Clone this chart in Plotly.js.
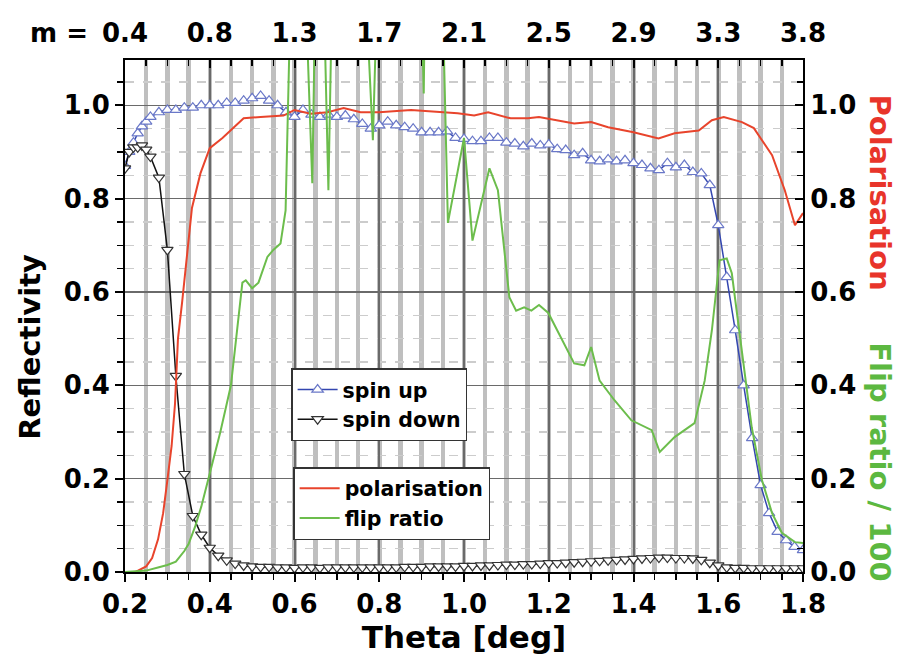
<!DOCTYPE html>
<html>
<head>
<meta charset="utf-8">
<script src="https://cdn.plot.ly/plotly-3.0.1.min.js"></script>
<style>html,body{margin:0;padding:0;background:#fff;}#chart{width:911px;height:662px;}</style>
</head>
<body>
<div id="chart"></div>
<script>
// ---- data ----
const theta = [0.20,0.21,0.22,0.23,0.24,0.25,0.26,
  0.28,0.30,0.32,0.34,0.36,0.38,0.40,0.42,0.44,0.46,0.48,0.50,0.52,0.54,0.56,0.58,0.60,
  0.62,0.64,0.66,0.68,0.70,0.72,0.74,0.76,0.78,0.80,0.82,0.84,0.86,0.88,0.90,0.92,0.94,
  0.96,0.98,1.00,1.02,1.04,1.06,1.08,1.10,1.12,1.14,1.16,1.18,1.20,1.22,1.24,1.26,1.28,
  1.30,1.32,1.34,1.36,1.38,1.40,1.42,1.44,1.46,1.48,1.50,1.52,1.54,1.56,1.58,1.60,1.62,
  1.64,1.66,1.68,1.70,1.72,1.74,1.76,1.78,1.80];

const spinUp = [0.87,0.90,0.92,0.94,0.955,0.965,0.975,
  0.985,0.99,0.99,0.995,0.995,1.00,1.00,1.00,1.005,1.005,1.01,1.015,1.02,1.01,1.00,0.985,0.975,
  0.99,0.98,0.975,0.98,0.975,0.978,0.97,0.96,0.95,0.957,0.965,0.957,0.953,0.95,0.942,0.942,0.942,
  0.944,0.93,0.928,0.923,0.923,0.93,0.93,0.92,0.918,0.912,0.918,0.914,0.916,0.906,0.904,0.893,0.897,
  0.882,0.88,0.884,0.88,0.882,0.876,0.872,0.865,0.861,0.876,0.867,0.872,0.857,0.854,0.829,0.743,0.632,
  0.518,0.40,0.287,0.186,0.126,0.086,0.068,0.054,0.047];

const spinDown = [0.865,0.90,0.91,0.91,0.914,0.905,0.89,
  0.845,0.69,0.42,0.21,0.12,0.08,0.052,0.035,0.025,0.018,0.014,0.012,0.011,0.011,0.010,0.010,0.009,
  0.010,0.010,0.009,0.010,0.010,0.010,0.010,0.010,0.010,0.010,0.010,0.010,0.011,0.011,0.011,0.012,0.012,
  0.012,0.012,0.013,0.013,0.014,0.014,0.015,0.016,0.016,0.017,0.017,0.018,0.019,0.019,0.020,0.021,0.022,
  0.023,0.024,0.025,0.026,0.027,0.028,0.029,0.030,0.031,0.031,0.030,0.030,0.029,0.026,0.020,0.014,0.010,
  0.009,0.009,0.008,0.008,0.008,0.008,0.008,0.008,0.008];

const polTheta = [0.20,0.225,0.25,0.264,0.278,0.29,0.30,0.31,0.318,0.325,0.335,0.347,0.358,0.378,
  0.40,0.43,0.48,0.52,0.574,0.60,0.638,0.678,0.716,0.756,0.80,0.875,0.95,0.985,1.024,1.057,1.11,
  1.151,1.177,1.22,1.26,1.30,1.34,1.40,1.459,1.497,1.554,1.585,1.613,1.656,1.684,1.727,1.757,1.781,1.80];
const polarisation = [0.0,0.0,0.012,0.03,0.07,0.126,0.197,0.27,0.36,0.50,0.58,0.69,0.78,0.854,
  0.908,0.93,0.972,0.975,0.978,0.99,0.982,0.985,0.994,0.985,0.985,0.99,0.985,0.983,0.978,0.985,0.972,
  0.972,0.975,0.968,0.961,0.964,0.953,0.942,0.929,0.94,0.946,0.968,0.975,0.964,0.951,0.893,0.818,0.743,0.769];

const flipTheta = [0.20,0.25,0.28,0.30,0.32,0.34,0.35,0.365,0.38,0.40,0.425,0.45,0.465,0.477,0.485,
  0.50,0.515,0.536,0.55,0.567,0.579,0.586,0.595,0.62,0.642,0.652,0.665,0.68,0.692,0.76,0.785,0.80,
  0.895,0.905,0.91,0.945,0.962,1.00,1.02,1.06,1.08,1.107,1.123,1.142,1.159,1.177,1.199,1.26,1.284,
  1.30,1.32,1.355,1.395,1.443,1.462,1.497,1.544,1.568,1.585,1.603,1.62,1.632,1.66,1.679,1.703,
  1.727,1.75,1.781,1.80];
const flipRatio = [0.0,0.003,0.01,0.015,0.022,0.045,0.06,0.096,0.14,0.21,0.30,0.40,0.52,0.62,0.625,
  0.608,0.62,0.675,0.69,0.704,0.775,0.975,1.4,1.4,0.833,1.4,1.4,0.818,1.4,1.4,0.925,1.4,
  1.4,1.025,1.4,1.4,0.748,0.93,0.71,0.865,0.818,0.589,0.56,0.567,0.56,0.572,0.555,0.447,0.443,
  0.482,0.41,0.368,0.325,0.304,0.257,0.289,0.319,0.41,0.518,0.668,0.672,0.64,0.447,0.31,0.197,
  0.126,0.084,0.064,0.062];

const bottomTicks = [0.2,0.4,0.6,0.8,1.0,1.2,1.4,1.6,1.8];
const mLabels = ['0.4','0.8','1.3','1.7','2.1','2.5','2.9','3.3','3.8'];

// ---- styling ----
const FONT = 'DejaVu Sans, Arial, sans-serif';
const bold = (size, color) => ({family: FONT, size: size, color: color || '#000', weight: 'bold'});
const MAJ = '#6a6a6a', MINV = '#bfbfbf', MINH = '#cccccc';

const traces = [
  {x: polTheta, y: polarisation, name: 'polarisation', type: 'scatter', mode: 'lines',
   line: {color: '#e8442c', width: 2}, yaxis: 'y2', legend: 'legend2'},
  {x: flipTheta, y: flipRatio, name: 'flip ratio', type: 'scatter', mode: 'lines',
   line: {color: '#6cbd4c', width: 2}, yaxis: 'y2', legend: 'legend2'},
  {x: theta, y: spinUp, name: 'spin up', type: 'scatter', mode: 'lines+markers',
   line: {color: '#3346b0', width: 1.5},
   marker: {symbol: 'triangle-up', size: 10, color: '#ffffff', line: {color: '#6a78c8', width: 1.2}},
   legend: 'legend'},
  {x: theta, y: spinDown, name: 'spin down', type: 'scatter', mode: 'lines+markers',
   line: {color: '#111111', width: 1.5},
   marker: {symbol: 'triangle-down', size: 10, color: '#ffffff', line: {color: '#333333', width: 1.2}},
   legend: 'legend'},
  {x: [0.2], y: [null], xaxis: 'x2', showlegend: false, hoverinfo: 'skip', mode: 'markers'}
];

const layout = {
  width: 911, height: 662,
  margin: {l: 125, r: 108, t: 60, b: 90},
  paper_bgcolor: '#fff', plot_bgcolor: '#fff',
  showlegend: true,
  xaxis: {
    range: [0.2, 1.8], tickvals: bottomTicks, tickformat: '.1f',
    showgrid: true, gridcolor: MAJ, gridwidth: 2,
    minor: {dtick: 0.05, tick0: 0.2, showgrid: true, gridcolor: MINV, gridwidth: 4.5,
            ticks: 'outside', ticklen: 6, tickcolor: '#000', tickwidth: 1.5},
    ticks: 'outside', ticklen: 8, tickwidth: 2, tickcolor: '#000',
    showline: true, linecolor: '#000', linewidth: 2, mirror: false, zeroline: false,
    tickfont: bold(26),
    title: {text: 'Theta [deg]', font: bold(31), standoff: 2}
  },
  xaxis2: {
    overlaying: 'x', side: 'top', range: [0.2, 1.8],
    tickvals: bottomTicks, ticktext: mLabels,
    showgrid: false, zeroline: false,
    minor: {dtick: 0.05, tick0: 0.2, ticks: 'inside', ticklen: 6, tickcolor: '#000', tickwidth: 1.5, showgrid: false},
    ticks: 'inside', ticklen: 8, tickwidth: 2, tickcolor: '#000',
    showline: true, linecolor: '#000', linewidth: 2,
    tickfont: bold(26), ticklabelstandoff: 6
  },
  yaxis: {
    range: [0, 1.097], tickvals: [0, 0.2, 0.4, 0.6, 0.8, 1.0], tickformat: '.1f',
    showgrid: true, gridcolor: MAJ, gridwidth: 1.5,
    minor: {dtick: 0.05, tick0: 0, showgrid: true, gridcolor: MINH, gridwidth: 1.5, griddash: 'dash',
            ticks: 'outside', ticklen: 6, tickcolor: '#000', tickwidth: 1.5},
    ticks: 'outside', ticklen: 8, tickwidth: 2, tickcolor: '#000',
    showline: true, linecolor: '#000', linewidth: 2, zeroline: false,
    tickfont: bold(26)
  },
  yaxis2: {
    overlaying: 'y', side: 'right', range: [0, 1.097],
    tickvals: [0, 0.2, 0.4, 0.6, 0.8, 1.0], tickformat: '.1f',
    showgrid: false, zeroline: false,
    minor: {dtick: 0.05, tick0: 0, ticks: 'inside', ticklen: 6, tickcolor: '#000', tickwidth: 1.5},
    ticks: 'inside', ticklen: 8, tickwidth: 2, tickcolor: '#000',
    showline: true, linecolor: '#000', linewidth: 2,
    tickfont: bold(26)
  },
  legend: {
    x: 0.245, y: 0.398, xanchor: 'left', yanchor: 'top',
    bgcolor: '#fff', bordercolor: '#333', borderwidth: 1.5,
    font: bold(20.5), tracegroupgap: 0, itemwidth: 40
  },
  legend2: {
    x: 0.248, y: 0.205, xanchor: 'left', yanchor: 'top',
    bgcolor: '#fff', bordercolor: '#333', borderwidth: 1.5,
    font: bold(20.5), tracegroupgap: 0, itemwidth: 40
  },
  annotations: [
    {text: 'm =', xref: 'paper', yref: 'paper', x: -0.097, y: 1.053, xanchor: 'center', yanchor: 'middle',
     showarrow: false, font: bold(26)},
    {text: 'Reflectivity', xref: 'paper', yref: 'paper', x: -0.14, y: 0.44, xanchor: 'center', yanchor: 'middle',
     textangle: -90, showarrow: false, font: bold(29)},
    {text: 'Polarisation', xref: 'paper', yref: 'paper', x: 1.113, y: 0.742, xanchor: 'center', yanchor: 'middle',
     textangle: 90, showarrow: false, font: bold(29, '#e8342a')},
    {text: 'Flip ratio / 100', xref: 'paper', yref: 'paper', x: 1.113, y: 0.215, xanchor: 'center', yanchor: 'middle',
     textangle: 90, showarrow: false, font: bold(29, '#5cb840')}
  ]
};

Plotly.newPlot('chart', traces, layout, {displayModeBar: false, staticPlot: true});
</script>
</body>
</html>
